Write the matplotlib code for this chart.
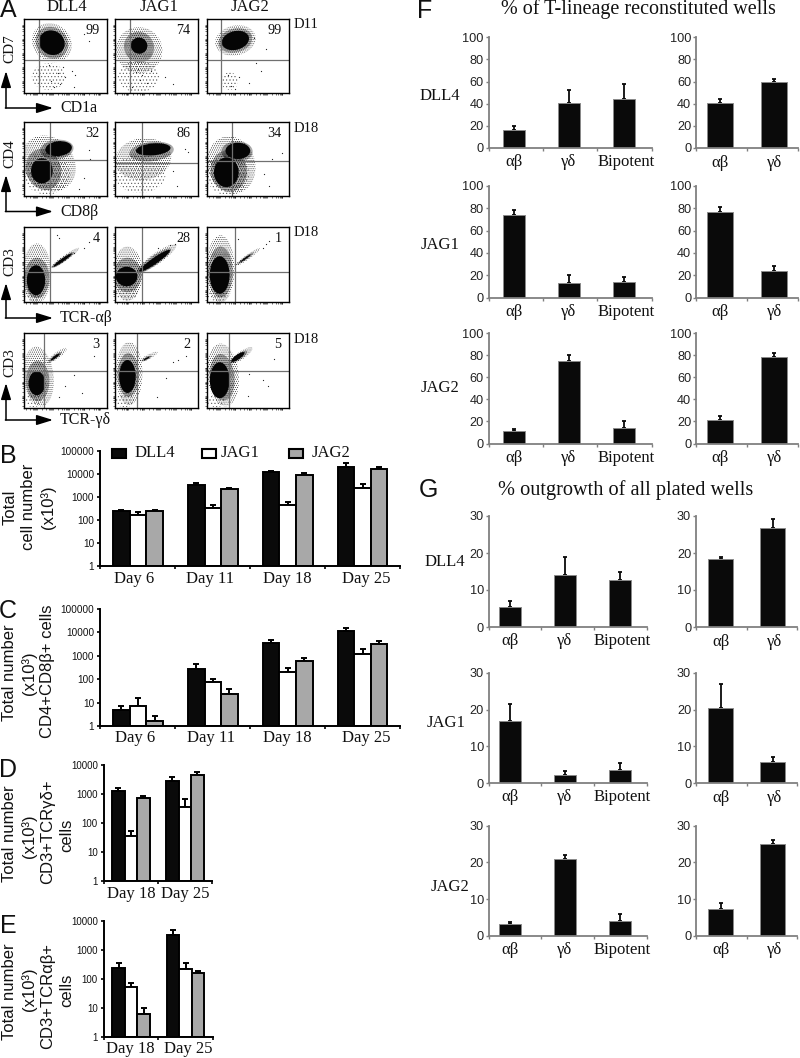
import matplotlib
matplotlib.use("Agg")
import matplotlib.pyplot as plt
from matplotlib.patches import Ellipse, Rectangle, FancyArrowPatch
from matplotlib.ticker import FixedLocator, NullFormatter

W, H = 800, 1058
SANS = ["Liberation Sans", "DejaVu Sans"]
SERIF = ["Liberation Serif", "DejaVu Serif"]
plt.rcParams["hatch.linewidth"] = 0.4

# ---------- data: flow panels (axis percent units) ----------
LIGANDS = ["DLL4", "JAG1", "JAG2"]
FLOW_PCT = [["99", "74", "99"], ["32", "86", "34"], ["4", "28", "1"], ["3", "2", "5"]]
FLOW_DAY = ["D11", "D18", "D18", "D18"]
FLOW_X = ["CD1a", "CD8β", "TCR-αβ", "TCR-γδ"]
FLOW_Y = ["CD7", "CD4", "CD3", "CD3"]
GATES = [[(18, 45), (18, 45), (18, 45)],
         [(32, 48), (32, 44), (31, 47)],
         [(32, 40), (32, 40), (35, 40)],
         [(25, 49), (27, 49), (27, 50)]]
# population (cx, cy, width, height, angle)
CORES = [[[(34, 68, 30, 34, 25)], [(29, 64, 20, 22, 10)], [(35, 71, 34, 25, 20)]],
         [[(42, 64, 32, 20, 8), (22, 34, 26, 34, 0)], [(46, 63, 42, 16, 6)], [(38, 61, 30, 22, 0), (24, 32, 30, 40, 0)]],
         [[(15, 29, 22, 40, 0), (47, 56, 28, 4, 38)], [(14, 34, 26, 26, 0), (48, 55, 46, 8, 38)], [(16, 36, 24, 50, 0), (47, 58, 16, 2, 38)]],
         [[(16, 33, 20, 32, 0), (38, 68, 14, 3, 40)], [(15, 42, 20, 44, 0), (38, 66, 8, 2, 30)], [(16, 37, 24, 48, 0), (38, 68, 20, 6, 38)]]]
DENSE = [[[(34, 68, 38, 44, 25)], [(29, 62, 36, 42, 10)], [(35, 71, 42, 32, 20)]],
         [[(40, 63, 40, 26, 8), (24, 36, 42, 56, 10)], [(44, 60, 54, 26, 8)], [(37, 60, 38, 28, 0), (27, 34, 44, 56, 5)]],
         [[(16, 32, 30, 54, 0), (47, 56, 34, 6, 38)], [(15, 36, 34, 46, 0), (47, 55, 52, 12, 38)], [(17, 40, 30, 68, 0), (47, 58, 26, 4, 38)]],
         [[(17, 36, 28, 54, 0), (38, 68, 20, 5, 40)], [(16, 44, 26, 58, 0), (38, 66, 14, 4, 30)], [(19, 41, 30, 62, 5), (39, 68, 26, 8, 38)]]]
HALO = [[[(34, 68, 46, 54, 25)], [(29, 58, 56, 62, 5)], [(35, 71, 50, 40, 20)]],
        [[(30, 44, 62, 78, 25)], [(34, 50, 68, 56, 12)], [(30, 42, 58, 78, 10)]],
        [[(16, 38, 34, 80, 0), (50, 59, 42, 7, 38)], [(15, 38, 36, 72, 0), (50, 58, 60, 14, 38)], [(17, 44, 34, 90, 0), (50, 60, 38, 6, 38)]],
        [[(18, 42, 36, 80, 5), (40, 70, 30, 8, 40)], [(17, 46, 32, 84, 0), (40, 68, 26, 6, 30)], [(20, 44, 38, 84, 5), (42, 70, 34, 10, 38)]]]
FRINGE = [[[(30, 22, 40, 36, 0)], [(28, 22, 50, 42, 0)], [(28, 16, 20, 24, 0)]],
          [[(28, 30, 56, 56, 0)], [(30, 30, 62, 52, 0)], [(26, 28, 52, 54, 0)]],
          [[(12, 12, 22, 22, 0)], [(14, 12, 28, 20, 0)], [(14, 10, 26, 18, 0)]],
          [[(12, 10, 20, 18, 0)], [(12, 10, 22, 18, 0)], [(12, 10, 22, 18, 0)]]]
STRAY_X = [[[44, 50, 33, 41, 58, 60, 47, 36, 62, 30, 78, 72], [20, 25, 30, 17, 38, 33, 28, 70, 60, 24, 43], [52, 60, 80, 72, 58, 30, 26, 34, 66, 40]],
           [[78, 80, 72, 66], [84, 88, 70, 75], [92, 80, 70, 76]],
           [[60, 72, 78, 42, 40], [72, 80, 66, 52], [72, 68, 76, 38]],
           [[50, 85, 70, 60, 42], [70, 76, 62, 85, 50], [75, 82, 52, 50, 68]]]
STRAY_Y = [[[12, 22, 16, 27, 30, 8, 35, 8, 24, 38, 70, 80], [8, 28, 18, 36, 14, 24, 32, 12, 22, 44, 30], [14, 40, 82, 60, 74, 10, 25, 6, 30, 22]],
           [[62, 50, 24, 10], [64, 60, 34, 14], [58, 50, 30, 14]],
           [[66, 72, 80, 86, 90], [78, 86, 76, 72], [78, 72, 82, 84]],
           [[30, 70, 20, 44, 15], [62, 64, 40, 70, 15], [30, 66, 45, 16, 38]]]

# ---------- data: panels B-E ----------
DAYS_LONG = ["Day 6", "Day 11", "Day 18", "Day 25"]
DAYS_SHORT = ["Day 18", "Day 25"]
B_VALUES = [[250, 3200, 12500, 21000], [160, 350, 450, 2400], [250, 2200, 9500, 16000]]
B_TOPS = [[290, 4100, 14000, 29000], [220, 450, 600, 3800], [290, 2600, 11500, 21000]]
C_VALUES = [[5, 260, 3400, 11000], [7.5, 75, 210, 1200], [1.7, 23, 580, 3200]]
C_TOPS = [[7, 460, 4900, 16000], [15, 105, 290, 1900], [2.6, 38, 800, 4300]]
D_VALUES = [[1300, 2700], [36, 340], [750, 4400]]
D_TOPS = [[1600, 3800], [52, 650], [880, 5800]]
E_VALUES = [[230, 3300], [52, 220], [6, 155]]
E_TOPS = [[360, 4800], [72, 350], [10, 190]]
LOG_TICKS_5 = [1, 10, 100, 1000, 10000, 100000]
LOG_TICKS_4 = [1, 10, 100, 1000, 10000]
SERIES_FILL = ["#0a0a0a", "#ffffff", "#a8a8a8"]

# ---------- data: panels F, G ----------
LINEAGE3 = ["αβ", "γδ", "Bipotent"]
LINEAGE2 = ["αβ", "γδ"]
F_LEFT_VALUES = [[16, 40.5, 44], [74, 13, 14], [11.5, 74.5, 14]]
F_LEFT_TOPS = [[20, 52, 58], [78.5, 20, 18.5], [13.5, 80.5, 20]]
F_RIGHT_VALUES = [[41, 59.5], [77, 23.5], [21.5, 78]]
F_RIGHT_TOPS = [[44.5, 62.5], [81, 28], [25, 82]]
G_LEFT_VALUES = [[5.5, 14, 12.7], [16.8, 2.2, 3.7], [3.2, 21, 4]]
G_LEFT_TOPS = [[7, 18.8, 15], [21.5, 3.4, 5.6], [3.8, 22, 6]]
G_RIGHT_VALUES = [[18.3, 26.7], [20.5, 5.8], [7.2, 25]]
G_RIGHT_TOPS = [[19, 29.2], [27, 7.2], [9, 26]]
F_TICKS = [0, 20, 40, 60, 80, 100]
G_TICKS = [0, 10, 20, 30]

fig = plt.figure(figsize=(W / 100, H / 100), dpi=100, facecolor="white")


def box(l, t, r, b):
    return fig.add_axes([l / W, 1 - b / H, (r - l) / W, (b - t) / H])


def T(x, y, s, fam=SERIF, size=12, ha="center", va="center", rot=0, color="#111111", **kw):
    fig.text(x / W, 1 - y / H, s, family=fam, fontsize=size, ha=ha, va=va,
             rotation=rot, color=color, **kw)


def arrow(x0, y0, x1, y1):
    fig.add_artist(FancyArrowPatch(
        (x0 / W, 1 - y0 / H), (x1 / W, 1 - y1 / H), transform=fig.transFigure,
        arrowstyle="-|>,head_length=5.5,head_width=1.7", lw=1.1, color="black",
        shrinkA=0, shrinkB=0, mutation_scale=1.8))


# ---------- Panel A ----------
ROW_BOX = [(19, 93), (122, 196), (227, 302), (333, 408)]
COL_BOX = [(23.5, 107), (115, 198), (206.5, 289)]
FLOW_TICKS = [3, 8, 11, 13, 14, 15, 16, 22, 27, 30, 32, 33, 34, 35, 41, 46, 49, 51, 52,
              53, 54, 60, 65, 68, 70, 71, 72, 73, 79, 84, 87, 89, 90, 91, 92]


def shells(ax, ellipses, hatch, color):
    for e in ellipses:
        ax.add_patch(Ellipse(e[:2], e[2], e[3], angle=e[4], fill=False, hatch=hatch,
                             edgecolor=color, lw=0))


for r, (t, b) in enumerate(ROW_BOX):
    for c, (l, rr) in enumerate(COL_BOX):
        ax = box(l, t, rr, b)
        ax.set_xlim(0, 100)
        ax.set_ylim(0, 100)
        shells(ax, FRINGE[r][c], ".....", "#555555")
        shells(ax, HALO[r][c], "........", "#222222")
        shells(ax, DENSE[r][c], "...............", "#000000")
        for e in CORES[r][c]:
            ax.add_patch(Ellipse(e[:2], e[2], e[3], angle=e[4], facecolor="#050505", lw=0))
        ax.scatter(STRAY_X[r][c], STRAY_Y[r][c], s=0.8, c="#222222", lw=0)
        gx, gy = GATES[r][c]
        ax.axvline(gx, color="#707070", lw=0.9)
        ax.axhline(gy, color="#707070", lw=0.9)
        ax.set_xticks(FLOW_TICKS)
        ax.set_yticks(FLOW_TICKS)
        ax.tick_params(length=1.5, width=0.4, direction="out", labelleft=False,
                       labelbottom=False, pad=0)
        for s in ax.spines.values():
            s.set_linewidth(1.0)
        ax.text(91, 84, FLOW_PCT[r][c], family=SERIF, fontsize=10.2, ha="right", va="center",
                color="#111111")
    T(294, t + 6, FLOW_DAY[r], ha="left", size=10.5)

T(67, 7, LIGANDS[0], size=12)
T(159, 7, LIGANDS[1], size=12)
T(250, 7, LIGANDS[2], size=12)
AX_ROWS = [(49, 108, 71), (154, 211.5, 175), (262, 318, 283), (363, 420, 383)]
for i, (ly, cy, top) in enumerate(AX_ROWS):
    T(10, ly, FLOW_Y[i], rot=90, size=11)
    arrow(6, cy, 6, top)
    arrow(5.4, cy, 53, cy)
    T(60, cy, FLOW_X[i], ha="left", size=11.5)


# ---------- Panels B-E ----------
def log_panel(box_px, values, tops, labels, label_px, ticks, label_y, tick_size, bar_w):
    ax = box(*box_px)
    n = len(labels)
    ax.set_yscale("log")
    ax.set_ylim(ticks[0], ticks[-1])
    ax.set_xlim(0, n)
    for j, (v, tp, fc) in enumerate(zip(values, tops, SERIES_FILL)):
        xs = [i + 0.5 + (j - 1) * bar_w for i in range(n)]
        ax.bar(xs, [a - 1 for a in v], width=bar_w, facecolor=fc, edgecolor="black", lw=1.4,
               bottom=1, zorder=2)
        ax.errorbar(xs, v, yerr=[[0] * n, [a - b for a, b in zip(tp, v)]], fmt="none",
                    ecolor="black", elinewidth=1.4, capsize=2.3, capthick=1.4, zorder=1)
    ax.yaxis.set_major_locator(FixedLocator(ticks))
    ax.yaxis.set_minor_locator(FixedLocator([]))
    ax.yaxis.set_minor_formatter(NullFormatter())
    ax.set_yticklabels([str(t) for t in ticks], family=SANS, fontsize=tick_size, color="#111111")
    ax.set_xticks(range(n + 1))
    ax.set_xticklabels([])
    ax.tick_params(axis="both", length=2.5, width=1.2, pad=2)
    ax.spines[["top", "right"]].set_visible(False)
    ax.spines[["left", "bottom"]].set_linewidth(1.4)
    ax.patch.set_alpha(0)
    for s, x in zip(labels, label_px):
        T(x, label_y, s, size=12)
    return ax


log_panel((100.5, 451, 400, 566.3), B_VALUES, B_TOPS, DAYS_LONG, [134, 210, 287, 366], LOG_TICKS_5, 579, 7.2, 0.222)
log_panel((100.5, 609, 400, 726), C_VALUES, C_TOPS, DAYS_LONG, [135, 211, 287, 366], LOG_TICKS_5, 738, 7.2, 0.222)
log_panel((104, 765, 211.7, 880.7), D_VALUES, D_TOPS, DAYS_SHORT, [131, 185], LOG_TICKS_4, 894, 7, 0.232)
log_panel((104, 921, 212.7, 1036.7), E_VALUES, E_TOPS, DAYS_SHORT, [130, 188], LOG_TICKS_4, 1049, 7, 0.232)

for x0, fc, tx, name in zip([112, 202, 288.5], SERIES_FILL, [135, 221, 312], LIGANDS):
    fig.add_artist(Rectangle((x0 / W, 1 - 458 / H), 14 / W, 9 / H, transform=fig.transFigure,
                             facecolor=fc, edgecolor="black", lw=1.5))
    T(tx, 453, name, ha="left", size=12)

T(10, 507, "Total", SANS, 12, rot=90)
T(29, 507, "cell number", SANS, 12, rot=90)
T(48, 507, "(x10³)", SANS, 12, rot=90)
T(10, 673, "Total number", SANS, 12, rot=90)
T(29, 673, "(x10³)", SANS, 12, rot=90)
T(48, 671, "CD4+CD8β+ cells", SANS, 12, rot=90)
T(10, 834, "Total number", SANS, 12, rot=90)
T(29, 836, "(x10³)", SANS, 12, rot=90)
T(48, 832, "CD3+TCRγδ+", SANS, 12, rot=90)
T(67, 835, "cells", SANS, 12, rot=90)
T(10, 992, "Total number", SANS, 12, rot=90)
T(29, 989, "(x10³)", SANS, 12, rot=90)
T(48, 996, "CD3+TCRαβ+", SANS, 12, rot=90)
T(67, 990, "cells", SANS, 12, rot=90)


# ---------- Panels F, G ----------
def pct_panel(box_px, values, tops, labels, centers_px, width_px, yticks, label_y, label_px):
    l, t, r, b = box_px
    ax = box(*box_px)
    n = len(labels)
    ax.set_xlim(0, n)
    ax.set_ylim(yticks[0], yticks[-1])
    scale = n / (r - l)
    xs = [(c - l) * scale for c in centers_px]
    ax.bar(xs, values, width=width_px * scale, facecolor="#0a0a0a", edgecolor="#8a8a8a", lw=0.7, zorder=2)
    ax.errorbar(xs, values, yerr=[[0] * n, [a - b_ for a, b_ in zip(tops, values)]], fmt="none",
                ecolor="#0a0a0a", elinewidth=1.3, capsize=1.6, capthick=1.3, zorder=1)
    ax.set_yticks(yticks)
    ax.set_yticklabels([str(v) for v in yticks], family=SANS, fontsize=9.2, color="#222222")
    ax.set_xticks(range(n + 1))
    ax.set_xticklabels([])
    ax.tick_params(length=2, width=1, color="#808080", pad=1.5)
    ax.spines[["top", "right"]].set_visible(False)
    ax.spines[["left", "bottom"]].set_color("#808080")
    ax.spines[["left", "bottom"]].set_linewidth(1.3)
    ax.patch.set_alpha(0)
    for s, x in zip(labels, label_px):
        T(x, label_y, s, size=12)


F_ROWS = [(37.3, 148), (186, 297.5), (333, 443.5)]
G_ROWS = [(516, 627), (672.7, 783.3), (825.7, 935.7)]
for i, (t, b) in enumerate(F_ROWS):
    pct_panel((488.7, t, 651.7, b), F_LEFT_VALUES[i], F_LEFT_TOPS[i], LINEAGE3,
              [514, 568.7, 623.7], 22, F_TICKS, b + 14.5, [514, 569, 626])
    pct_panel((696, t, 797.5, b), F_RIGHT_VALUES[i], F_RIGHT_TOPS[i], LINEAGE2,
              [720, 774], 26, F_TICKS, b + 15, [720, 775])
    T(440, [96, 245, 388][i], LIGANDS[i], size=12)
for i, (t, b) in enumerate(G_ROWS):
    pct_panel((488.7, t, 647, b), G_LEFT_VALUES[i], G_LEFT_TOPS[i], LINEAGE3,
              [510, 564.7, 620], 22, G_TICKS, b + 14, [510, 565, 622])
    pct_panel((696, t, 797, b), G_RIGHT_VALUES[i], G_RIGHT_TOPS[i], LINEAGE2,
              [720.7, 772.7], 25, G_TICKS, b + 14.5, [721, 775])
    T([445, 446, 450][i], [562, 723, 887][i], LIGANDS[i], size=12)

T(638, 9, "% of T-lineage reconstituted wells", size=14.5)
T(626, 490, "% outgrowth of all plated wells", size=14.6)

for s, x, y in [("A", 8, 10), ("B", 8, 456), ("C", 8, 611), ("D", 8, 770), ("E", 8, 926),
                ("F", 425, 11), ("G", 428, 490)]:
    T(x, y, s, SANS, 18, color="#111111")

fig.savefig("out.png", dpi=100, facecolor="white")
